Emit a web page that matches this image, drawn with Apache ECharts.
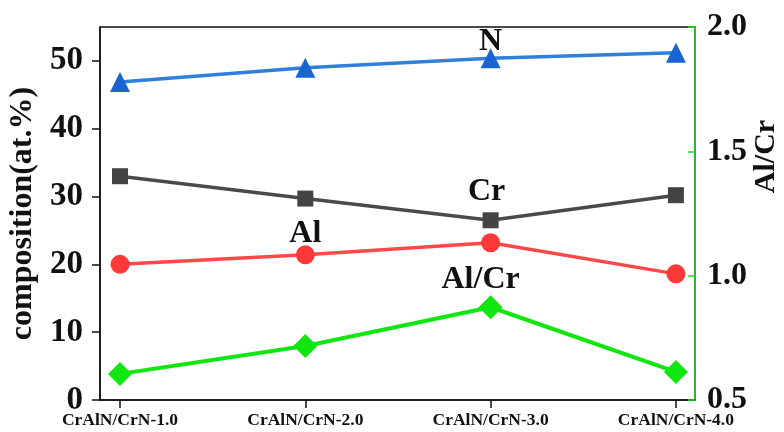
<!DOCTYPE html>
<html>
<head>
<meta charset="utf-8">
<script src="https://cdn.jsdelivr.net/npm/echarts@6/dist/echarts.min.js"></script>
<style>
  html, body { margin: 0; background: #fff; }
  #chart { width: 784px; height: 432px; }
</style>
</head>
<body>
<div id="chart"></div>
<script>
// samples on the x axis
const categories = ["CrAlN/CrN-1.0", "CrAlN/CrN-2.0", "CrAlN/CrN-3.0", "CrAlN/CrN-4.0"];
// composition in at.%
const nValues = [46.9, 49.0, 50.4, 51.2];
const crValues = [33.0, 29.7, 26.5, 30.2];
const alValues = [20.0, 21.4, 23.2, 18.6];
// Al/Cr ratio (right axis)
const ratioValues = [0.605, 0.717, 0.873, 0.613];
// tick labels
const leftTicks = [0, 10, 20, 30, 40, 50];
const rightTicks = [0.5, 1.0, 1.5, 2.0];
const catTicks = [0, 1, 2, 3];

const serif = "'Liberation Serif', 'Times New Roman', serif";

// put the series name as a label on one chosen point
function points(values, labelIdx, offset) {
  return values.map((v, i) => {
    const item = { value: [i, v] };
    if (i === labelIdx) {
      item.label = {
        show: true, position: "top", formatter: "{a}", offset: offset,
        fontFamily: serif, fontWeight: "bold", fontSize: 32, color: "#111"
      };
    }
    return item;
  });
}

const chart = echarts.init(document.getElementById("chart"));

chart.setOption({
  animation: false,
  grid: {
    left: 100, right: 89, top: 27, bottom: 32,
    outerBoundsMode: "none", containLabel: false,
    show: true, borderColor: "#111", borderWidth: 1.5
  },
  xAxis: {
    type: "value",
    min: -0.108,
    max: 3.103,
    splitLine: { show: false },
    axisLine: { onZero: false, lineStyle: { color: "#111", width: 1.5 } },
    axisTick: { customValues: catTicks, length: 8, lineStyle: { color: "#111", width: 1.5 } },
    axisLabel: {
      customValues: catTicks,
      formatter: (v) => categories[Math.round(v)],
      margin: 11, fontFamily: serif, fontWeight: "bold", fontSize: 17.5, color: "#111"
    }
  },
  yAxis: [
    {
      type: "value",
      min: 0,
      max: 55,
      name: "composition(at.%)",
      nameLocation: "middle",
      nameGap: 58,
      nameRotate: 90,
      nameTextStyle: { fontFamily: serif, fontWeight: "bold", fontSize: 32, color: "#111" },
      splitLine: { show: false },
      axisLine: { show: true, onZero: false, lineStyle: { color: "#111", width: 1.5 } },
      axisTick: { show: true, customValues: leftTicks, length: 8, lineStyle: { color: "#111", width: 1.5 } },
      axisLabel: { customValues: leftTicks, margin: 17, fontFamily: serif, fontWeight: "bold", fontSize: 33, color: "#111" }
    },
    {
      type: "value",
      position: "right",
      min: 0.5,
      max: 2.0,
      interval: 0.5,
      name: "Al/Cr",
      nameLocation: "middle",
      nameGap: 56,
      nameMoveOverlap: false,
      nameRotate: 90,
      nameTextStyle: { fontFamily: serif, fontWeight: "bold", fontSize: 30, color: "#111", padding: [0, 0, 0, 114] },
      splitLine: { show: false },
      axisLine: { show: true, onZero: false, lineStyle: { color: "#22dd22", width: 1.5 } },
      axisTick: { show: true, inside: true, length: 7, lineStyle: { color: "#22dd22", width: 1.5 } },
      axisLabel: {
        customValues: rightTicks,
        formatter: (v) => v.toFixed(1),
        margin: 12, fontFamily: serif, fontWeight: "bold", fontSize: 32, color: "#111"
      }
    }
  ],
  series: [
    {
      name: "N", type: "line", data: points(nValues, 2, [0, 15]),
      symbol: "triangle", symbolSize: 20,
      itemStyle: { color: "#1a64d2" }, lineStyle: { color: "#2f80dc", width: 3.5 }
    },
    {
      name: "Cr", type: "line", data: points(crValues, 2, [-4, 0]),
      symbol: "rect", symbolSize: 16,
      itemStyle: { color: "#444" }, lineStyle: { color: "#4a4a4a", width: 3.5 }
    },
    {
      name: "Al", type: "line", data: points(alValues, 1, [0, 9]),
      symbol: "circle", symbolSize: 19,
      itemStyle: { color: "#ff3838" }, lineStyle: { color: "#ff4848", width: 3.5 }
    },
    {
      name: "Al/Cr", type: "line", yAxisIndex: 1, data: points(ratioValues, 2, [-10, 5]),
      symbol: "diamond", symbolSize: 24,
      itemStyle: { color: "#11e611" }, lineStyle: { color: "#11e611", width: 4 }
    }
  ]
});
</script>
</body>
</html>
